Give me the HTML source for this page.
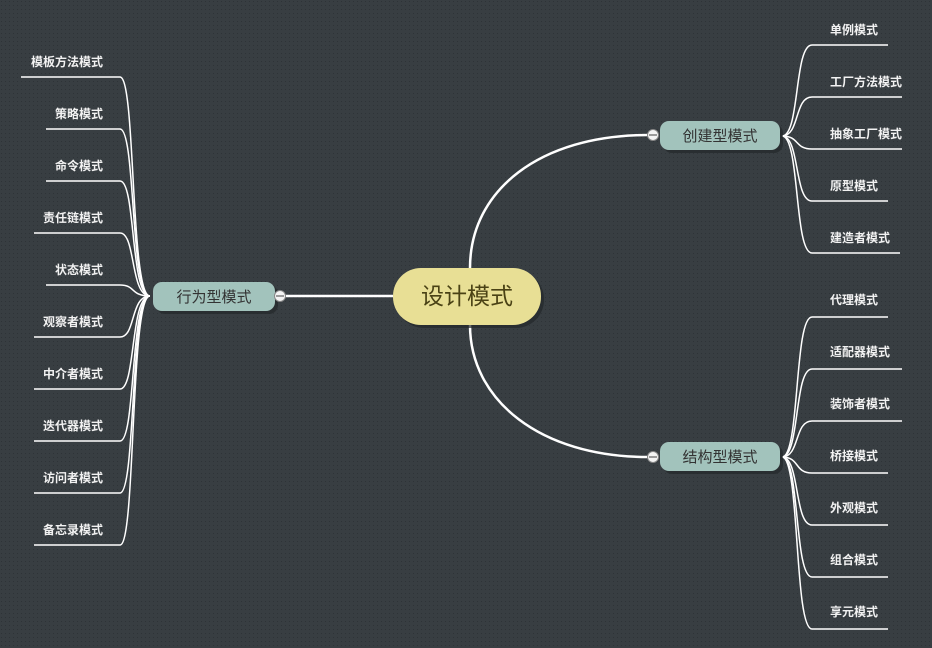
<!DOCTYPE html>
<html><head><meta charset="utf-8"><style>
html,body{margin:0;padding:0;width:932px;height:648px;overflow:hidden;background:#363c41;}
svg{display:block}
text{font-family:"Liberation Sans","Noto Sans CJK SC",sans-serif;}
.l{fill:#f2f2f2;font-size:12px;font-weight:bold;}
</style></head><body>
<svg width="932" height="648" viewBox="0 0 932 648">
<defs>
<pattern id="dots" width="4" height="4" patternUnits="userSpaceOnUse"><rect x="1" y="1" width="1" height="1" fill="#2e3337"/></pattern>
</defs>
<rect width="932" height="648" fill="#383e42"/>
<rect width="932" height="648" fill="url(#dots)"/>
<g fill="none" stroke="#fff" stroke-width="2.5">
<path d="M393,296 H285"/>
<path d="M470,268 C470,190 540,135 648,135"/>
<path d="M470,325 C470,400 540,457 648,457"/>
</g>
<g fill="none" stroke="#fff" stroke-width="1.5">
<!-- creation -->
<path d="M782,136 C800,136 794,45 812,45 H888"/>
<path d="M782,136 C800,136 794,97 812,97 H902"/>
<path d="M782,136 C800,136 794,149 812,149 H902"/>
<path d="M782,136 C800,136 794,201 812,201 H888"/>
<path d="M782,136 C800,136 794,253 812,253 H900"/>
<!-- structure -->
<path d="M782,457 C800,457 794,317 812,317 H888"/>
<path d="M782,457 C800,457 794,369 812,369 H902"/>
<path d="M782,457 C800,457 794,421 812,421 H902"/>
<path d="M782,457 C800,457 794,473 812,473 H888"/>
<path d="M782,457 C800,457 794,525 812,525 H888"/>
<path d="M782,457 C800,457 794,577 812,577 H888"/>
<path d="M782,457 C800,457 794,629 812,629 H888"/>
<!-- behavior -->
<path d="M21,77 H120 C136,77 130,296 150,296"/>
<path d="M46,129 H120 C136,129 130,296 150,296"/>
<path d="M46,181 H120 C136,181 130,296 150,296"/>
<path d="M34,233 H120 C136,233 130,296 150,296"/>
<path d="M46,285 H120 C136,285 130,296 150,296"/>
<path d="M34,337 H120 C136,337 130,296 150,296"/>
<path d="M34,389 H120 C136,389 130,296 150,296"/>
<path d="M34,441 H120 C136,441 130,296 150,296"/>
<path d="M34,493 H120 C136,493 130,296 150,296"/>
<path d="M34,545 H120 C136,545 130,296 150,296"/>
</g>
<!-- central -->
<rect x="396" y="271" width="148" height="57" rx="28" fill="#24282b" opacity="0.7"/>
<rect x="393" y="268" width="148" height="57" rx="28" fill="#e8df95"/>
<text x="467" y="304" text-anchor="middle" font-size="23" fill="#4a4215">设计模式</text>
<!-- main nodes -->
<rect x="156" y="285" width="122" height="29" rx="9" fill="#24282b" opacity="0.7"/>
<rect x="153" y="282" width="122" height="29" rx="9" fill="#a2c3bc"/>
<text x="214" y="302" text-anchor="middle" font-size="15" fill="#333">行为型模式</text>
<rect x="663" y="124" width="120" height="29" rx="9" fill="#24282b" opacity="0.7"/>
<rect x="660" y="121" width="120" height="29" rx="9" fill="#a2c3bc"/>
<text x="720" y="141" text-anchor="middle" font-size="15" fill="#333">创建型模式</text>
<rect x="663" y="445" width="120" height="29" rx="9" fill="#24282b" opacity="0.7"/>
<rect x="660" y="442" width="120" height="29" rx="9" fill="#a2c3bc"/>
<text x="720" y="462" text-anchor="middle" font-size="15" fill="#333">结构型模式</text>
<!-- collapse circles -->
<g stroke="#888" stroke-width="1" fill="#f4f4f4">
<circle cx="280" cy="296" r="5.5"/><circle cx="653" cy="135" r="5.5"/><circle cx="653" cy="457" r="5.5"/>
</g>
<g stroke="#666" stroke-width="1.2"><path d="M276,296H284M649,135H657M649,457H657"/></g>
<!-- labels -->
<g class="l">
<text class="l" x="830" y="34">单例模式</text>
<text class="l" x="830" y="86">工厂方法模式</text>
<text class="l" x="830" y="138">抽象工厂模式</text>
<text class="l" x="830" y="190">原型模式</text>
<text class="l" x="830" y="242">建造者模式</text>
<text class="l" x="830" y="304">代理模式</text>
<text class="l" x="830" y="356">适配器模式</text>
<text class="l" x="830" y="408">装饰者模式</text>
<text class="l" x="830" y="460">桥接模式</text>
<text class="l" x="830" y="512">外观模式</text>
<text class="l" x="830" y="564">组合模式</text>
<text class="l" x="830" y="616">享元模式</text>
</g>
<g text-anchor="end">
<text class="l" x="103" y="66">模板方法模式</text>
<text class="l" x="103" y="118">策略模式</text>
<text class="l" x="103" y="170">命令模式</text>
<text class="l" x="103" y="222">责任链模式</text>
<text class="l" x="103" y="274">状态模式</text>
<text class="l" x="103" y="326">观察者模式</text>
<text class="l" x="103" y="378">中介者模式</text>
<text class="l" x="103" y="430">迭代器模式</text>
<text class="l" x="103" y="482">访问者模式</text>
<text class="l" x="103" y="534">备忘录模式</text>
</g>
</svg>
</body></html>
